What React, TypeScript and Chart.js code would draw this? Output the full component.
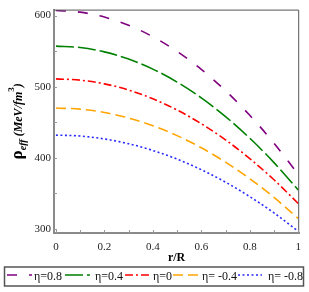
import React, { useEffect, useRef } from "react";
import { Chart, registerables } from "chart.js";

Chart.register(...registerables);

const rValues = [0, 0.1, 0.2, 0.3, 0.4, 0.5, 0.6, 0.7, 0.8, 0.9, 1];
const rho08 = [607, 604.7, 597.8, 586.3, 570.2, 549.5, 524.2, 494.3, 459.8, 420.7, 377];
const rho04 = [557, 555, 548.9, 538.8, 524.7, 506.5, 484.3, 458.0, 427.7, 393.4, 355];
const rho00 = [511, 509.2, 504, 495.3, 483, 467.3, 448, 425.3, 399, 369.3, 336];
const rhoM04 = [470, 468.5, 463.8, 456, 445.2, 431.3, 414.2, 394, 370.8, 344.4, 315];
const rhoM08 = [432, 430.7, 426.6, 419.9, 410.4, 398.3, 383.4, 365.9, 345.6, 322.7, 297];
const seriesLabels = ["η=0.8", "η=0.4", "η=0", "η= -0.4", "η= -0.8"];
const xTicks = [0, 0.2, 0.4, 0.6, 0.8, 1];
const yTicks = [300, 400, 500, 600];

const SERIF = "'Liberation Serif', 'DejaVu Serif', serif";

const colors = ["#800080", "#008000", "#ff0000", "#ffa500", "#2a2aff"];
const dashes = [[10, 12], [18, 4], [8, 3, 2, 3], [10, 5], [2, 2.5]];
// legend layout: [sampleStart, sampleEnd, textStart]
const legendPos = [
  [7, 32, 34],
  [65, 90, 95],
  [125, 149, 153],
  [173, 198, 202],
  [238, 262, 268],
];

const decorPlugin = {
  id: "decor",
  afterDraw(chart: any) {
    const ctx = chart.ctx;
    const { left, right, top, bottom } = chart.chartArea;
    ctx.save();
    // top & right frame
    ctx.strokeStyle = "#555";
    ctx.lineWidth = 1;
    ctx.beginPath();
    ctx.moveTo(left, top + 0.5);
    ctx.lineTo(right - 0.5, top + 0.5);
    ctx.lineTo(right - 0.5, bottom);
    ctx.stroke();
    // minor inward ticks
    const xs = chart.scales.x;
    const ys = chart.scales.y;
    ctx.strokeStyle = "#999";
    ctx.lineWidth = 1;
    for (let v = 0; v <= 10; v++) {
      const px = Math.round(xs.getPixelForValue(v / 10)) + 0.5;
      ctx.beginPath();
      ctx.moveTo(px, bottom);
      ctx.lineTo(px, bottom - 3);
      ctx.stroke();
    }
    for (let v = 300; v <= 600; v += 50) {
      const py = Math.round(ys.getPixelForValue(v)) + 0.5;
      ctx.beginPath();
      ctx.moveTo(left, py);
      ctx.lineTo(left + 3, py);
      ctx.stroke();
    }
    // x title
    ctx.fillStyle = "#000";
    ctx.font = `bold 12px ${SERIF}`;
    ctx.textAlign = "center";
    ctx.textBaseline = "middle";
    ctx.fillText("r/R", (left + right) / 2, 258);

    // legend
    ctx.strokeStyle = "#555";
    ctx.lineWidth = 1.5;
    ctx.strokeRect(4.5, 267, 299, 19);
    ctx.font = `12px ${SERIF}`;
    ctx.textAlign = "left";
    ctx.textBaseline = "middle";
    legendPos.forEach((p, i) => {
      ctx.strokeStyle = colors[i];
      ctx.lineWidth = 1.6;
      ctx.setLineDash(dashes[i]);
      ctx.beginPath();
      ctx.moveTo(p[0], 275);
      ctx.lineTo(p[1], 275);
      ctx.stroke();
      ctx.setLineDash([]);
      ctx.fillStyle = "#111";
      ctx.fillText(seriesLabels[i], p[2], 277);
    });

    // y title (rotated)
    ctx.translate(22, (top + bottom) / 2);
    ctx.rotate(-Math.PI / 2);
    ctx.textAlign = "left";
    ctx.textBaseline = "alphabetic";
    ctx.fillStyle = "#000";
    const parts = [
      { t: "ρ", f: `bold 17px ${SERIF}`, dy: 0 },
      { t: "eff", f: `italic bold 10px ${SERIF}`, dy: 4 },
      { t: " (MeV/fm", f: `italic bold 12px ${SERIF}`, dy: 0 },
      { t: "3", f: `bold 9px ${SERIF}`, dy: -8 },
      { t: ")", f: `italic bold 12px ${SERIF}`, dy: 0 },
    ];
    let total = 0;
    for (const p of parts) {
      ctx.font = p.f;
      total += ctx.measureText(p.t).width;
    }
    let x = -total / 2;
    for (const p of parts) {
      ctx.font = p.f;
      ctx.fillText(p.t, x, p.dy);
      x += ctx.measureText(p.t).width;
    }
    ctx.restore();
  },
};

export default function App() {
  const ref = useRef<HTMLCanvasElement | null>(null);
  useEffect(() => {
    document.body.style.margin = "0";
    const series = [rho08, rho04, rho00, rhoM04, rhoM08];
    const chart = new Chart(ref.current as HTMLCanvasElement, {
      type: "line",
      data: {
        datasets: series.map((s, i) => ({
          label: seriesLabels[i],
          data: s.map((v, j) => ({ x: rValues[j], y: v })),
          borderColor: colors[i],
          backgroundColor: colors[i],
          borderDash: dashes[i],
          borderWidth: 1.6,
          pointRadius: 0,
          fill: false,
          cubicInterpolationMode: "monotone",
        })),
      },
      options: {
        animation: false,
        responsive: false,
        layout: { padding: { left: 0, top: 5, right: 6, bottom: 29 } },
        plugins: {
          tooltip: { enabled: false },
          legend: { display: false },
        },
        scales: {
          x: {
            type: "linear",
            min: -0.008,
            max: 1.004,
            afterBuildTicks: (s: any) => {
              s.ticks = xTicks.map((v) => ({ value: v }));
            },
            afterFit: (s: any) => {
              s.height = 30;
            },
            grid: { display: false, drawTicks: false },
            border: { display: true, color: "#8a8a8a", width: 2 },
            ticks: {
              padding: 8,
              color: "#222",
              font: { family: SERIF, size: 11 },
              maxRotation: 0,
              callback: (v: any) => String(v),
            },
          },
          y: {
            type: "linear",
            min: 294.5,
            max: 608.3,
            afterBuildTicks: (s: any) => {
              s.ticks = yTicks.map((v) => ({ value: v }));
            },
            afterFit: (s: any) => {
              s.width = 54;
            },
            grid: { display: false, drawTicks: false },
            border: { display: true, color: "#8a8a8a", width: 2 },
            ticks: {
              padding: 3,
              color: "#222",
              font: { family: SERIF, size: 11 },
              callback: (v: any) => String(v),
            },
          },
        },
      },
      plugins: [decorPlugin],
    } as any);
    return () => chart.destroy();
  }, []);
  return (
    <div style={{ position: "absolute", left: 0, top: 0, width: 309, height: 292 }}>
      <canvas ref={ref} width={309} height={292} style={{ width: 309, height: 292 }} />
    </div>
  );
}
